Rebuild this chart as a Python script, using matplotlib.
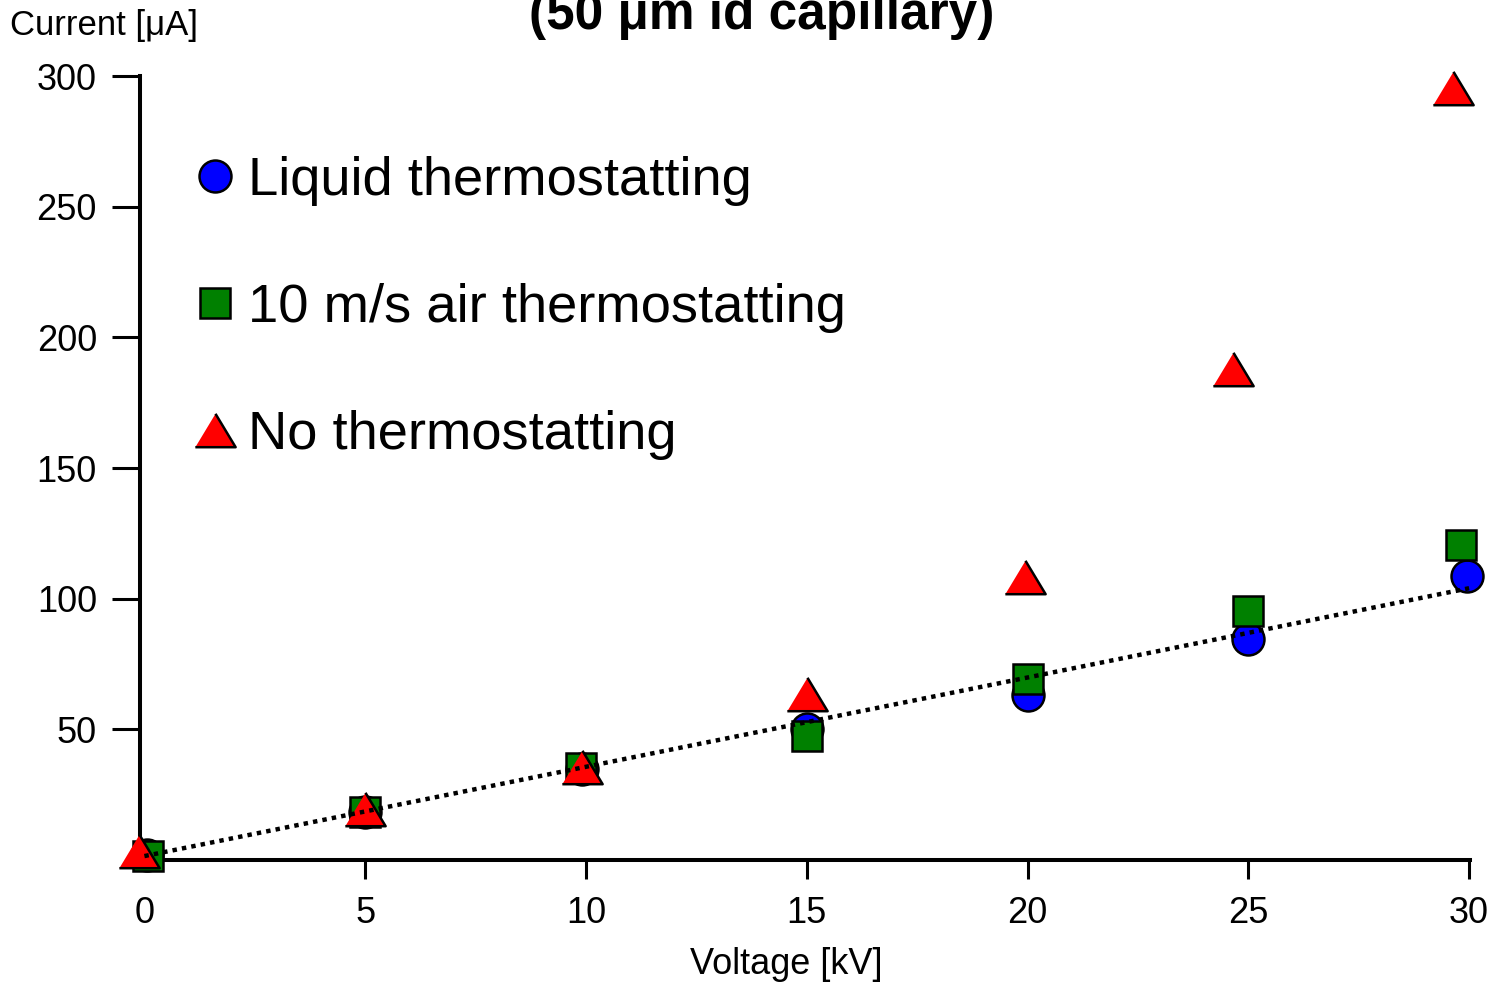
import matplotlib
matplotlib.use("Agg")
import matplotlib.pyplot as plt
from matplotlib.lines import Line2D

plt.rcParams['font.family'] = ['Liberation Sans', 'DejaVu Sans']

# voltage [kV] and current [uA] for each cooling mode
volt_liquid = [0.05, 5, 9.9, 15, 20, 25, 29.96]
cur_liquid = [1.8, 18.4, 35.0, 50.1, 63.1, 84.6, 108.7]

volt_air = [0.07, 4.99, 9.89, 15.0, 20.0, 25.0, 29.82]
cur_air = [1.5, 18.2, 35.2, 47.4, 69.1, 95.1, 120.5]

volt_none = [-0.12, 5.0, 9.91, 15.0, 19.95, 24.66, 29.64]
cur_none = [3.4, 19.5, 35.4, 63.5, 108.1, 187.9, 295.4]

fit_volt = [0, 30]
fit_cur = [1.5, 104.0]

labels = ["Liquid thermostatting", "10 m/s air thermostatting", "No thermostatting"]

tri = [(-1, -0.83), (1, -0.83), (0, 0.83)]

fig = plt.figure(figsize=(14.93, 9.82), dpi=100)
ax = fig.add_axes([140 / 1493, 122 / 982, 1330 / 1493, 784 / 982])

ax.plot(volt_liquid, cur_liquid, ls="none", marker="o", ms=23, mfc="#0000ff",
        mec="black", mew=1.8, clip_on=False, zorder=3)
ax.plot(volt_air, cur_air, ls="none", marker="s", ms=22, mfc="#008000",
        mec="black", mew=1.8, clip_on=False, zorder=4)
ax.plot(volt_none, cur_none, ls="none", marker=tri, ms=29, mfc="#ff0000",
        mec="black", mew=1.8, clip_on=False, zorder=5)
ax.plot(fit_volt, fit_cur, color="black", lw=3.2, dashes=(1.0, 1.15),
        clip_on=False, zorder=6)

ax.set_xlim(-0.1, 30.02)
ax.set_ylim(0, 300)
ax.set_xticks([0, 5, 10, 15, 20, 25, 30])
ax.set_yticks([50, 100, 150, 200, 250, 300])

for s in ["top", "right"]:
    ax.spines[s].set_visible(False)
for s in ["left", "bottom"]:
    ax.spines[s].set_linewidth(2.9)

ax.tick_params(axis="y", direction="out", length=20, width=2.2, pad=11, labelsize=26)
ax.tick_params(axis="x", direction="out", length=14, width=2.2, pad=12, labelsize=26)
ax.xaxis.get_major_ticks()[0].tick1line.set_visible(False)

ax.set_xlabel("Voltage [kV]", fontsize=26)
ax.xaxis.set_label_coords((786 - 140) / 1330, -0.111)
ax.set_ylabel("Current [μA]", fontsize=25, rotation=0, ha="left", va="baseline")
ax.yaxis.set_label_coords(-0.0977, 1.0523)

fig.text(761.5 / 1493, 1 - 29 / 982, "(50 μm id capillary)", fontsize=37,
         fontweight="bold", ha="center", va="baseline")

handles = [
    Line2D([], [], ls="none", marker="o", ms=23, mfc="#0000ff", mec="black", mew=1.8),
    Line2D([], [], ls="none", marker="s", ms=22, mfc="#008000", mec="black", mew=1.8),
    Line2D([], [], ls="none", marker=tri, ms=29, mfc="#ff0000", mec="black", mew=1.8),
]
ax.legend(handles, labels, loc="upper left", bbox_to_anchor=(0.0400, 0.898),
          frameon=False, fontsize=39.2, handlelength=0.8, handletextpad=0.2,
          labelspacing=1.415, borderpad=0, borderaxespad=0)

fig.savefig("out.png", dpi=100)
